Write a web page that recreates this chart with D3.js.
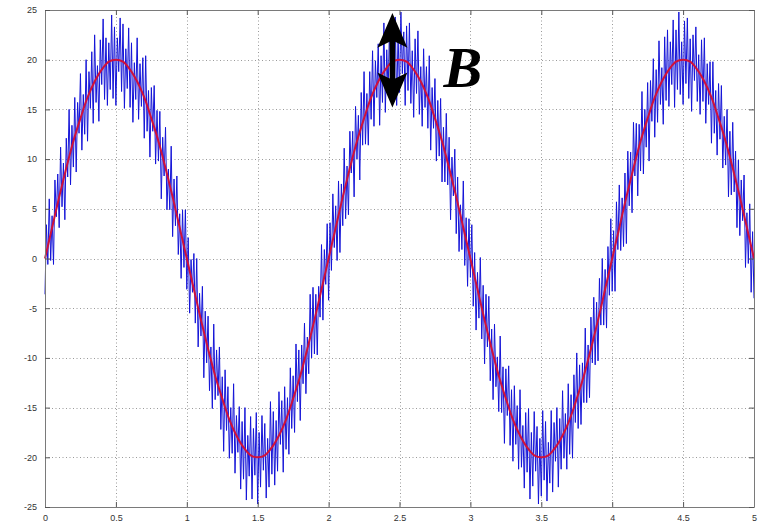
<!DOCTYPE html>
<html>
<head>
<meta charset="utf-8">
<script src="https://cdn.jsdelivr.net/npm/d3@7/dist/d3.min.js"></script>
<style>
  html, body { margin: 0; padding: 0; background: #fff; }
  svg { display: block; }
</style>
</head>
<body>
<script>
// noisy signal vs. clean sine, matlab style figure

var xTicks = [0, 0.5, 1, 1.5, 2, 2.5, 3, 3.5, 4, 4.5, 5];
var yTicks = [-25, -20, -15, -10, -5, 0, 5, 10, 15, 20, 25];
var xTickLabels = ["0", "0.5", "1", "1.5", "2", "2.5", "3", "3.5", "4", "4.5", "5"];
var yTickLabels = ["-25", "-20", "-15", "-10", "-5", "0", "5", "10", "15", "20", "25"];

// clean sine (red), one sample every 0.05 s
var redStep = 0.05;
var redValues = [
  0, 3.1, 6.2, 9.1, 11.8, 14.1, 16.2, 17.8, 19.0, 19.8,
  20, 19.8, 19.0, 17.8, 16.2, 14.1, 11.8, 9.1, 6.2, 3.1,
  0, -3.1, -6.2, -9.1, -11.8, -14.1, -16.2, -17.8, -19.0, -19.8,
  -20, -19.8, -19.0, -17.8, -16.2, -14.1, -11.8, -9.1, -6.2, -3.1,
  0, 3.1, 6.2, 9.1, 11.8, 14.1, 16.2, 17.8, 19.0, 19.8,
  20, 19.8, 19.0, 17.8, 16.2, 14.1, 11.8, 9.1, 6.2, 3.1,
  0, -3.1, -6.2, -9.1, -11.8, -14.1, -16.2, -17.8, -19.0, -19.8,
  -20, -19.8, -19.0, -17.8, -16.2, -14.1, -11.8, -9.1, -6.2, -3.1,
  0, 3.1, 6.2, 9.1, 11.8, 14.1, 16.2, 17.8, 19.0, 19.8,
  20, 19.8, 19.0, 17.8, 16.2, 14.1, 11.8, 9.1, 6.2, 3.1,
  0
];

// noisy measurement (blue), one sample every 0.01 s
var blueStep = 0.01;
var blueValues = [
  -3.6, 3.4, -0.6, 6.0, -0.2, 4.3, -0.6, 7.9, 4.2, 8.5,
  3.1, 11.2, 5.2, 9.6, 3.9, 12.1, 8.2, 15.0, 7.4, 13.4,
  9.2, 16.2, 8.7, 15.7, 12.6, 18.6, 10.9, 16.5, 12.5, 20.0,
  11.8, 18.8, 15.1, 20.8, 13.6, 22.5, 15.7, 19.4, 13.8, 22.0,
  17.5, 24.1, 16.0, 22.2, 15.4, 21.7, 17.0, 24.5, 16.1, 23.3,
  15.4, 22.2, 18.8, 24.2, 16.8, 23.6, 15.1, 21.1, 17.1, 23.2,
  15.2, 21.7, 13.7, 19.7, 16.0, 22.2, 14.0, 19.6, 15.3, 20.2,
  12.1, 20.4, 12.8, 16.9, 10.2, 17.2, 12.8, 17.4, 9.5, 14.9,
  9.8, 14.8, 6.0, 12.2, 8.3, 13.2, 4.9, 9.0, 4.9, 11.3,
  2.2, 8.0, 3.3, 8.3, 0.4, 4.5, -2.0, 4.9, -0.9, 4.9,
  -3.1, 2.1, -5.5, -0.1, -3.4, 0.5, -6.5, 0.0, -8.9, -3.5,
  -7.8, -2.8, -12.0, -5.3, -10.5, -5.8, -13.3, -8.9, -15.1, -6.6,
  -14.2, -9.2, -13.8, -8.9, -17.2, -11.9, -19.4, -11.2, -17.3, -12.9,
  -20.1, -15.0, -19.6, -12.6, -21.6, -15.8, -19.5, -14.9, -23.2, -16.4,
  -22.2, -15.0, -24.3, -17.8, -21.9, -15.9, -24.2, -17.1, -21.8, -15.5,
  -24.7, -17.5, -23.0, -15.8, -21.3, -16.6, -24.1, -18.1, -23.0, -14.4,
  -21.7, -15.4, -22.8, -16.3, -21.4, -13.4, -18.7, -14.3, -21.5, -12.9,
  -19.2, -14.0, -19.7, -11.0, -17.1, -11.8, -17.5, -8.6, -14.4, -9.2,
  -16.3, -8.7, -12.6, -6.5, -13.6, -7.9, -11.6, -3.6, -10.0, -2.9,
  -9.6, -3.6, -9.7, -2.8, -5.9, 1.4, -6.2, 0.9, -2.6, 3.5,
  -4.2, 3.6, -1.2, 6.5, 1.1, 5.3, -0.2, 7.8, 0.6, 7.5,
  3.3, 11.1, 4.0, 9.3, 4.4, 12.8, 8.6, 12.8, 6.2, 15.3,
  10.0, 14.4, 7.9, 16.7, 11.4, 18.8, 11.5, 16.6, 11.4, 18.8,
  14.0, 20.9, 13.3, 19.9, 16.2, 21.6, 13.4, 20.4, 15.7, 23.7,
  14.7, 21.0, 16.8, 23.6, 16.1, 22.8, 18.1, 24.3, 15.4, 22.5,
  16.7, 24.8, 18.6, 22.8, 15.4, 23.4, 16.9, 23.7, 15.6, 20.9,
  14.2, 22.1, 16.6, 22.9, 14.5, 19.3, 13.3, 21.1, 15.2, 19.3,
  13.1, 20.4, 10.9, 17.2, 13.1, 18.1, 9.8, 15.9, 10.3, 16.1,
  7.7, 13.2, 7.7, 14.6, 7.4, 12.2, 3.9, 10.2, 6.3, 11.0,
  2.5, 8.2, 0.7, 5.4, 0.9, 7.8, -0.7, 4.1, -2.8, 4.0,
  -1.9, 3.4, -4.8, 0.6, -7.2, -1.4, -6.0, 0.1, -8.1, -2.7,
  -10.6, -3.6, -8.9, -3.8, -12.3, -7.1, -14.2, -6.6, -12.9, -9.9,
  -15.4, -7.8, -15.5, -10.9, -18.6, -11.1, -15.8, -10.8, -18.8, -13.2,
  -20.4, -12.8, -18.7, -14.8, -21.2, -13.2, -21.0, -16.8, -23.1, -15.5,
  -21.5, -15.1, -24.2, -17.5, -22.9, -15.4, -21.4, -16.9, -24.7, -18.1,
  -23.9, -15.3, -22.3, -16.4, -24.4, -18.5, -22.6, -15.3, -23.5, -16.5,
  -20.4, -15.0, -23.0, -16.1, -21.2, -13.3, -20.1, -15.6, -21.2, -12.6,
  -19.7, -13.7, -20.1, -11.7, -16.5, -9.5, -17.1, -10.7, -16.7, -10.5,
  -14.5, -7.0, -14.5, -8.7, -14.0, -5.9, -10.5, -3.9, -10.7, -4.4,
  -10.3, -2.0, -6.7, 0.0, -6.7, -1.1, -7.0, 1.2, -3.7, 4.0,
  -3.3, 2.8, -3.3, 5.7, 0.9, 7.4, 0.8, 6.1, 1.2, 8.6,
  1.5, 10.8, 5.3, 10.7, 4.6, 13.7, 8.3, 13.6, 6.3, 13.5,
  8.8, 16.8, 8.5, 15.0, 11.2, 17.7, 9.8, 17.9, 13.8, 20.1,
  12.2, 19.0, 13.7, 21.9, 15.5, 19.2, 13.5, 22.3, 15.9, 23.0,
  15.3, 21.8, 17.5, 24.0, 15.2, 23.0, 17.0, 24.8, 16.5, 21.8,
  15.5, 23.9, 17.6, 24.2, 16.1, 22.1, 14.8, 22.5, 17.9, 23.3,
  15.8, 20.5, 14.5, 22.0, 15.8, 22.2, 13.6, 19.6, 15.5, 19.8,
  11.6, 19.8, 12.6, 16.9, 10.4, 17.6, 12.0, 17.4, 9.1, 14.3,
  9.4, 15.0, 6.2, 12.8, 6.4, 13.7, 6.7, 10.8, 3.1, 9.9,
  2.3, 7.9, 3.8, 8.4, -0.9, 4.6, -0.5, 5.5, -3.4, 2.7,
  -4.0
];

// annotation: double arrow over the second peak, label "B"
var arrowX = 2.45;
var arrowTop = 24.7;
var arrowBottom = 15.2;
var arrowHead = 2.9;
var labelText = "B";

var W = 759, H = 526;
var margin = {left: 45, right: 5, top: 10, bottom: 19};

var svg = d3.select("body").append("svg").attr("width", W).attr("height", H);
svg.append("rect").attr("width", W).attr("height", H).attr("fill", "#fff");

var x = d3.scaleLinear().domain([0, 5]).range([margin.left, W - margin.right]);
var y = d3.scaleLinear().domain([-25, 25]).range([H - margin.bottom, margin.top]);

// dotted grid
var grid = svg.append("g").attr("stroke", "#9a9a9a").attr("stroke-width", 1).attr("stroke-dasharray", "1,2.5");
grid.selectAll(".gx").data(xTicks.slice(1, -1)).enter().append("line")
  .attr("x1", function (d) { return Math.round(x(d)) + 0.5; })
  .attr("x2", function (d) { return Math.round(x(d)) + 0.5; })
  .attr("y1", y(25)).attr("y2", y(-25));
grid.selectAll(".gy").data(yTicks.slice(1, -1)).enter().append("line")
  .attr("y1", function (d) { return Math.round(y(d)) + 0.5; })
  .attr("y2", function (d) { return Math.round(y(d)) + 0.5; })
  .attr("x1", x(0)).attr("x2", x(5));

// signals
var blueLine = d3.line()
  .x(function (d, i) { return x(i * blueStep); })
  .y(function (d) { return y(d); });
var redLine = d3.line()
  .x(function (d, i) { return x(i * redStep); })
  .y(function (d) { return y(d); })
  .curve(d3.curveCatmullRom);

svg.append("path").datum(blueValues)
  .attr("d", blueLine)
  .attr("fill", "none").attr("stroke", "#1414d8").attr("stroke-width", 1)
  .attr("stroke-linejoin", "miter");
svg.append("path").datum(redValues)
  .attr("d", redLine)
  .attr("fill", "none").attr("stroke", "#d0103a").attr("stroke-width", 2);

// axes, matlab style: ticks inside, box on
function styleAxis(g) {
  g.select(".domain").attr("stroke", "#7a7a7a");
  g.selectAll(".tick line").attr("stroke", "#555");
  g.selectAll(".tick text").attr("fill", "#333")
    .style("font-family", "'Liberation Sans', Arial, sans-serif").style("font-size", "9px");
}
var fmtX = function (d, i) { return xTickLabels[i]; };
var fmtY = function (d, i) { return yTickLabels[i]; };

svg.append("g").attr("transform", "translate(0," + y(-25) + ")")
  .call(d3.axisBottom(x).tickValues(xTicks).tickFormat(fmtX).tickSizeInner(-5).tickSizeOuter(0).tickPadding(8))
  .call(styleAxis);
svg.append("g").attr("transform", "translate(0," + y(25) + ")")
  .call(d3.axisTop(x).tickValues(xTicks).tickFormat("").tickSizeInner(-5).tickSizeOuter(0))
  .call(styleAxis);
svg.append("g").attr("transform", "translate(" + x(0) + ",0)")
  .call(d3.axisLeft(y).tickValues(yTicks).tickFormat(fmtY).tickSizeInner(-5).tickSizeOuter(0).tickPadding(8))
  .call(styleAxis);
svg.append("g").attr("transform", "translate(" + x(5) + ",0)")
  .call(d3.axisRight(y).tickValues(yTicks).tickFormat("").tickSizeInner(-5).tickSizeOuter(0))
  .call(styleAxis);

// double arrow
var ax = x(arrowX), at = y(arrowTop), ab = y(arrowBottom);
var hTop = y(arrowTop - arrowHead), hBot = y(arrowBottom + arrowHead);
var hw = 15, sw = 2.8, notch = 6;
var arrowPath = [
  [ax, at], [ax + hw, hTop + notch], [ax + sw, hTop],
  [ax + sw, hBot], [ax + hw, hBot - notch], [ax, ab],
  [ax - hw, hBot - notch], [ax - sw, hBot],
  [ax - sw, hTop], [ax - hw, hTop + notch]
];
svg.append("path")
  .attr("d", d3.line()(arrowPath) + "Z")
  .attr("fill", "#000");

svg.append("text")
  .attr("x", x(arrowX) + 51).attr("y", y(17.3))
  .style("font-family", "'Liberation Serif', 'Times New Roman', serif")
  .style("font-weight", "bold").style("font-style", "italic").style("font-size", "58px")
  .attr("fill", "#000")
  .text(labelText);
</script>
</body>
</html>
